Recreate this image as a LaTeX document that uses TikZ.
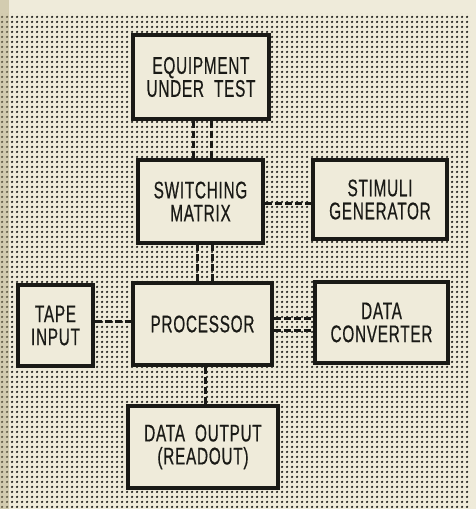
\documentclass[tikz,border=0pt]{standalone}
\usepackage{fontspec}
\setmainfont[FakeStretch=0.64,FakeBold=0.5,WordSpace=2,LetterSpace=3]{Liberation Sans}
\usetikzlibrary{patterns.meta}
\definecolor{paper}{HTML}{EFEBDA}
\definecolor{ink}{HTML}{1A1A16}
\definecolor{spine}{HTML}{B3A77F}
\tikzdeclarepattern{name=screendots,type=uncolored,
  bounding box={(0pt,0pt) and (4.6pt,4.6pt)},tile size={(4.6pt,4.6pt)},
  code={\fill (2.3pt,2.3pt) circle (1.35pt);}}

\begin{document}
\begin{tikzpicture}[x=1pt,y=-1pt,font=\fontsize{24}{23}\selectfont,
    blk/.style={draw=ink,line width=3.4pt,fill=paper,text=ink,align=center,inner sep=0pt},
    link/.style={draw=ink,line width=3pt,dash pattern=on 7pt off 3pt}]
    \useasboundingbox (0,0) rectangle (476,509);
    \fill[paper] (0,0) rectangle (476,509);
    \fill[pattern=screendots,pattern color=ink] (0,13) rectangle (470,509);
    \fill[spine,opacity=0.45] (0,0) rectangle (9,509);
    \node[blk,minimum width=136pt,minimum height=84pt] (eut) at (201,77) {EQUIPMENT\\UNDER TEST};
    \node[blk,minimum width=125pt,minimum height=83pt] (sw) at (200.5,201.5) {SWITCHING\\MATRIX};
    \node[blk,minimum width=134pt,minimum height=79pt] (stim) at (380,199.5) {STIMULI\\GENERATOR};
    \node[blk,minimum width=75pt,minimum height=81pt] (tape) at (55.5,325.5) {TAPE\\INPUT};
    \node[blk,minimum width=139pt,minimum height=82pt] (proc) at (202.5,324) {PROCESSOR};
    \node[blk,minimum width=133pt,minimum height=81pt] (conv) at (381.5,322.5) {DATA\\CONVERTER};
    \node[blk,minimum width=150pt,minimum height=82pt] (out) at (203,447) {DATA OUTPUT\\(READOUT)};
    \draw[link] ([xshift=-8pt]eut.south) -- ([xshift=-8pt]eut.south |- sw.north);
    \draw[link] ([xshift=10pt]eut.south) -- ([xshift=10pt]eut.south |- sw.north);
    \draw[link] ([yshift=-1.5pt]sw.east) -- ([yshift=-1.5pt]sw.east -| stim.west);
    \draw[link] ([xshift=-5.5pt]proc.north) -- ([xshift=-5.5pt]proc.north |- sw.south);
    \draw[link] ([xshift=9.5pt]proc.north) -- ([xshift=9.5pt]proc.north |- sw.south);
    \draw[link] ([yshift=4.5pt]tape.east) -- ([yshift=4.5pt]tape.east -| proc.west);
    \draw[link] ([yshift=6pt]proc.east) -- ([yshift=6pt]proc.east -| conv.west);
    \draw[link] ([yshift=-6pt]proc.east) -- ([yshift=-6pt]proc.east -| conv.west);
    \draw[link] ([xshift=2.5pt]proc.south) -- ([xshift=2.5pt]proc.south |- out.north);
\end{tikzpicture}
\end{document}
